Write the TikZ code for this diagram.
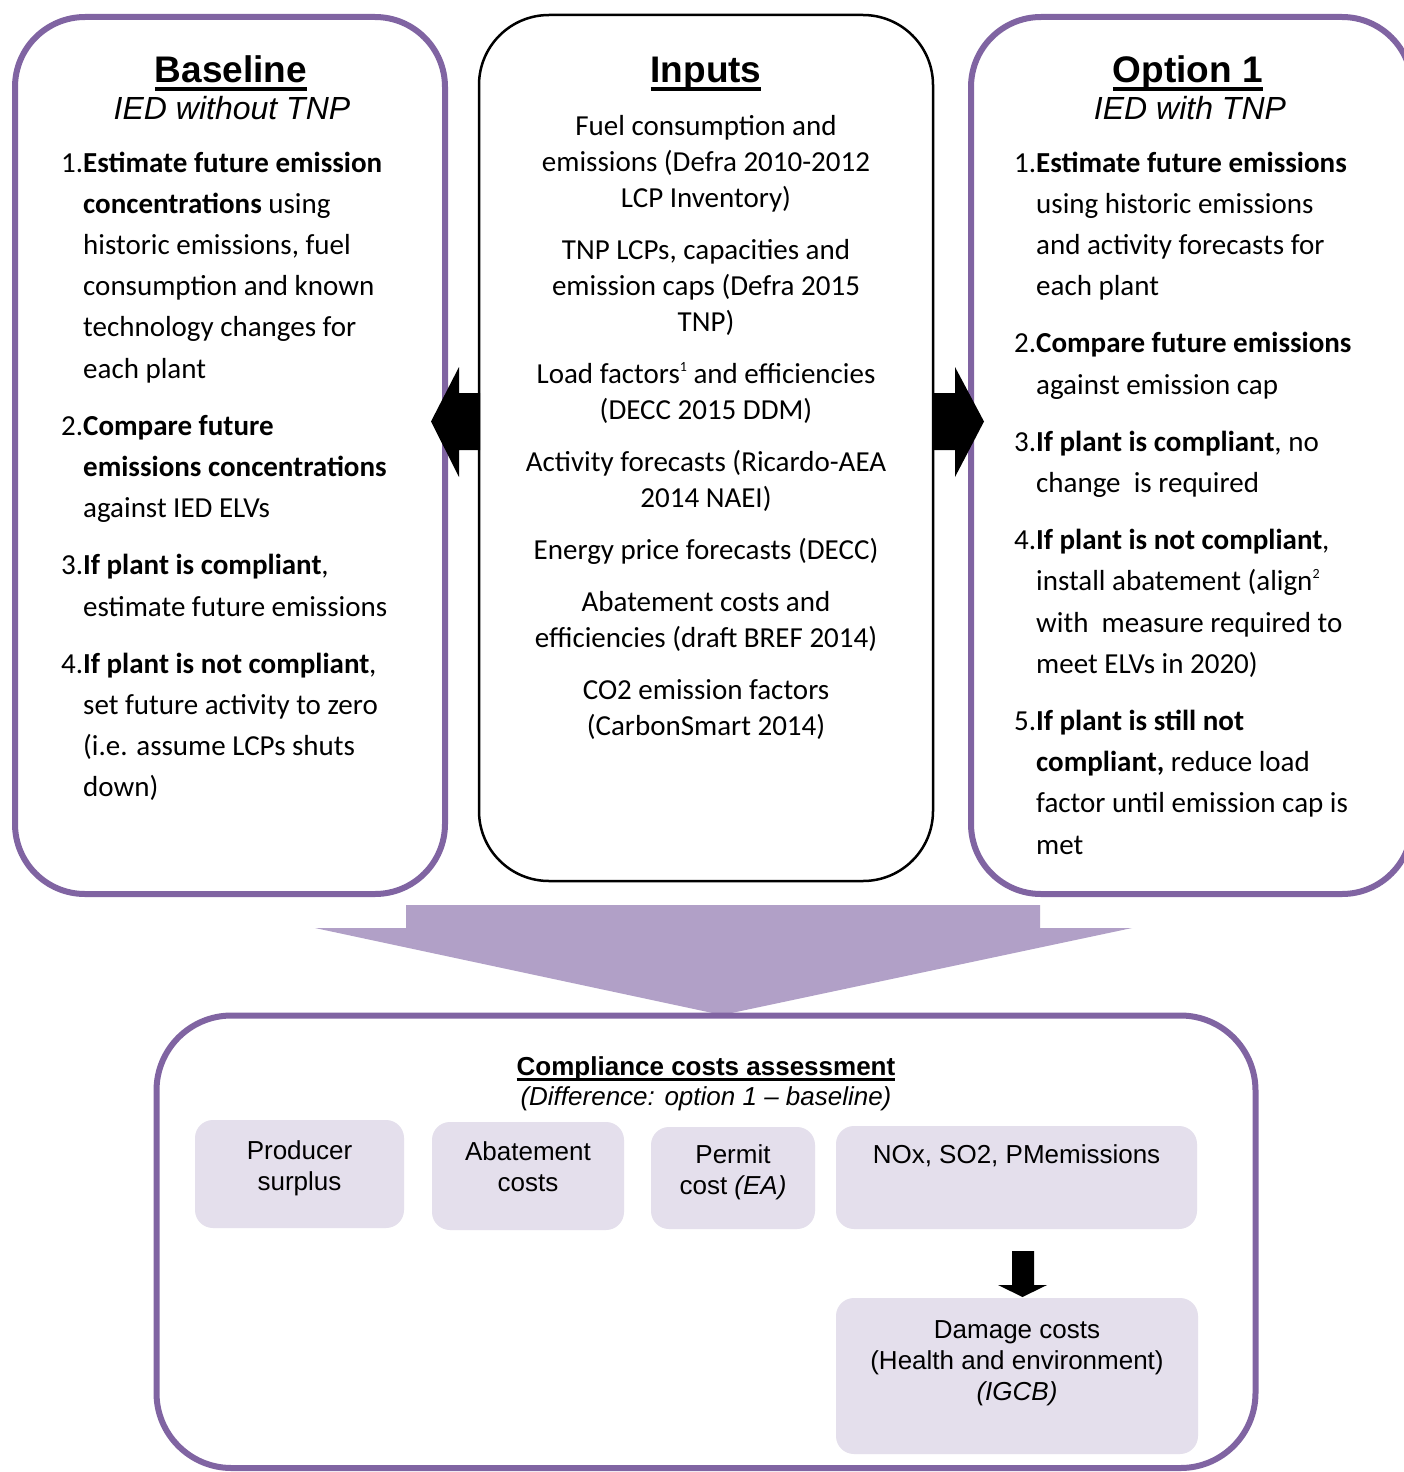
\documentclass[tikz,border=0pt]{standalone}
\usepackage{fontspec}
\setmainfont{Carlito}
\newfontfamily\arialfont{Liberation Sans}
\usetikzlibrary{positioning}
\definecolor{framepurple}{HTML}{8064A2}
\definecolor{arrowpurple}{HTML}{B1A0C7}
\definecolor{costlilac}{HTML}{E4DFEC}
\newsavebox\hdbox
\newcommand{\hdline}[1]{\sbox\hdbox{#1}\rlap{\vrule height -0.13em depth 0.23em width \wd\hdbox}\usebox\hdbox}
\newcommand{\footmark}[1]{\raisebox{0.42em}{\fontsize{14}{14}\selectfont #1}}
\begin{document}
\begin{tikzpicture}[x=1pt, y=-1pt]
    \tikzset{sidebox/.style = {draw=framepurple, line width=6pt, rounded corners=70pt, inner sep=0pt}}
    \tikzset{inputbox/.style = {draw=black, line width=2.5pt, rounded corners=70pt, inner sep=0pt}}
    \tikzset{headtext/.style = {anchor=base, inner sep=0pt, font=\arialfont\bfseries\fontsize{37}{40}\selectfont}}
    \tikzset{subtext/.style = {anchor=base, inner sep=0pt, font=\arialfont\itshape\fontsize{32}{36}\selectfont}}
    \tikzset{steptext/.style = {anchor=north west, inner sep=0pt, align=left, font=\fontsize{29}{41.2}\selectfont}}
    \tikzset{sourcetext/.style = {anchor=north, inner sep=0pt, align=center, font=\fontsize{29}{36}\selectfont}}
    \tikzset{costbox/.style = {fill=costlilac, rounded corners=18pt, inner sep=0pt}}
    \tikzset{costtext/.style = {inner sep=0pt, align=center, font=\arialfont\fontsize{26}{31}\selectfont}}
    \useasboundingbox (0,0) rectangle (1404,1472);
    \clip (0,0) rectangle (1404,1472);
    \fill[white] (0,0) rectangle (1404,1472);

    % top row
    \node[sidebox, minimum width=430pt, minimum height=877pt] (baseline) at (230,455.5) {};
    \node[inputbox, minimum width=454pt, minimum height=866pt] (inputs) at (706,448) {};
    \node[sidebox, minimum width=441pt, minimum height=877pt] (option) at (1191.5,455.5) {};

    \node[headtext] (basehead) at (231,82) {\hdline{Baseline}};
    \node[subtext] (basesub) at (232,119) {IED without TNP};
    \node[headtext] (inputhead) at (706,82) {\hdline{Inputs}};
    \node[headtext] (optionhead) at (1188,82) {\hdline{Option 1}};
    \node[subtext] (optionsub) at (1190,119) {IED with TNP};

    \node[steptext] (basesteps) at (83,143) {\strut\llap{1.}\textbf{Estimate future emission}\\
        \textbf{concentrations} using\\ historic emissions, fuel\\ consumption and known\\
        technology changes for\\ each plant\\[16pt]
        \llap{2.}\textbf{Compare future}\\ \textbf{emissions concentrations}\\ against IED ELVs\\[16pt]
        \llap{3.}\textbf{If plant is compliant},\\ estimate future emissions\\[16pt]
        \llap{4.}\textbf{If plant is not compliant},\\ set future activity to zero\\
        (i.e. assume LCPs shuts\\ down)};

    \node[sourcetext] (inputlist) at (706,110) {\strut Fuel consumption and\\
        emissions (Defra 2010-2012\\ LCP Inventory)\\[16pt]
        TNP LCPs, capacities and\\ emission caps (Defra 2015\\ TNP)\\[16pt]
        Load factors\footmark{1} and efficiencies\\ (DECC 2015 DDM)\\[16pt]
        Activity forecasts (Ricardo-AEA\\ 2014 NAEI)\\[16pt]
        Energy price forecasts (DECC)\\[16pt]
        Abatement costs and\\ efficiencies (draft BREF 2014)\\[16pt]
        CO2 emission factors\\ (CarbonSmart 2014)};

    \node[steptext] (optionsteps) at (1036,143) {\strut\llap{1.}\textbf{Estimate future emissions}\\
        using historic emissions\\ and activity forecasts for\\ each plant\\[16pt]
        \llap{2.}\textbf{Compare future emissions}\\ against emission cap\\[16pt]
        \llap{3.}\textbf{If plant is compliant}, no\\ change\ \ is required\\[16pt]
        \llap{4.}\textbf{If plant is not compliant},\\ install abatement (align\footmark{2}\\
        with\ \ measure required to\\ meet ELVs in 2020)\\[16pt]
        \llap{5.}\textbf{If plant is still not}\\ \textbf{compliant,} reduce load\\
        factor until emission cap is\\ met};

    % black block arrows from the inputs
    \fill (480,393) -- (459,393) -- (459,367) -- (431,421.5) -- (459,477) -- (459,450) -- (480,450) -- cycle;
    \fill (932,393) -- (955,393) -- (955,367) -- (984,421.5) -- (955,477) -- (955,450) -- (932,450) -- cycle;

    % big arrow down to the assessment
    \fill[arrowpurple] (406,905) -- (1040,905) -- (1040,928) -- (1132,928) -- (722,1015) -- (315,928) -- (406,928) -- cycle;

    % bottom box
    \node[sidebox, rounded corners=75pt, minimum width=1099pt, minimum height=452.5pt] (costs) at (706,1241.75) {};
    \node[anchor=base, inner sep=0pt, font=\arialfont\bfseries\fontsize{26}{30}\selectfont] (coststitle) at (706,1075) {\hdline{Compliance costs assessment}};
    \node[anchor=base, inner sep=0pt, font=\arialfont\itshape\fontsize{26}{30}\selectfont] (costssub) at (706,1105) {(Difference: option 1 – baseline)};

    \node[costbox, minimum width=209pt, minimum height=108pt] (surplus) at (299.5,1174) {};
    \node[costbox, minimum width=192pt, minimum height=108pt] (abatement) at (528,1176) {};
    \node[costbox, minimum width=164pt, minimum height=102pt] (permit) at (733,1178) {};
    \node[costbox, minimum width=361pt, minimum height=103pt] (emissions) at (1016.5,1177.5) {};
    \node[costbox, minimum width=362pt, minimum height=156pt] (damage) at (1017,1376) {};

    \node[costtext, below=18pt of surplus.north] (surplustext) {\strut Producer\\ surplus};
    \node[costtext, below=17pt of abatement.north] (abatementtext) {\strut Abatement\\ costs};
    \node[costtext, below=15pt of permit.north] (permittext) {\strut Permit\\ cost\ \textit{(EA)}};
    \node[costtext, below=16pt of emissions.north] (emissionstext) {\strut NOx, SO2, PMemissions};
    \node[costtext, below=19pt of damage.north] (damagetext) {\strut Damage costs\\ (Health and environment)\\ \textit{(IGCB)}};

    % small arrow
    \fill (1012,1251) -- (1034,1251) -- (1034,1285) -- (1047,1285) -- (1022.5,1297) -- (998,1285) -- (1012,1285) -- cycle;
\end{tikzpicture}
\end{document}
